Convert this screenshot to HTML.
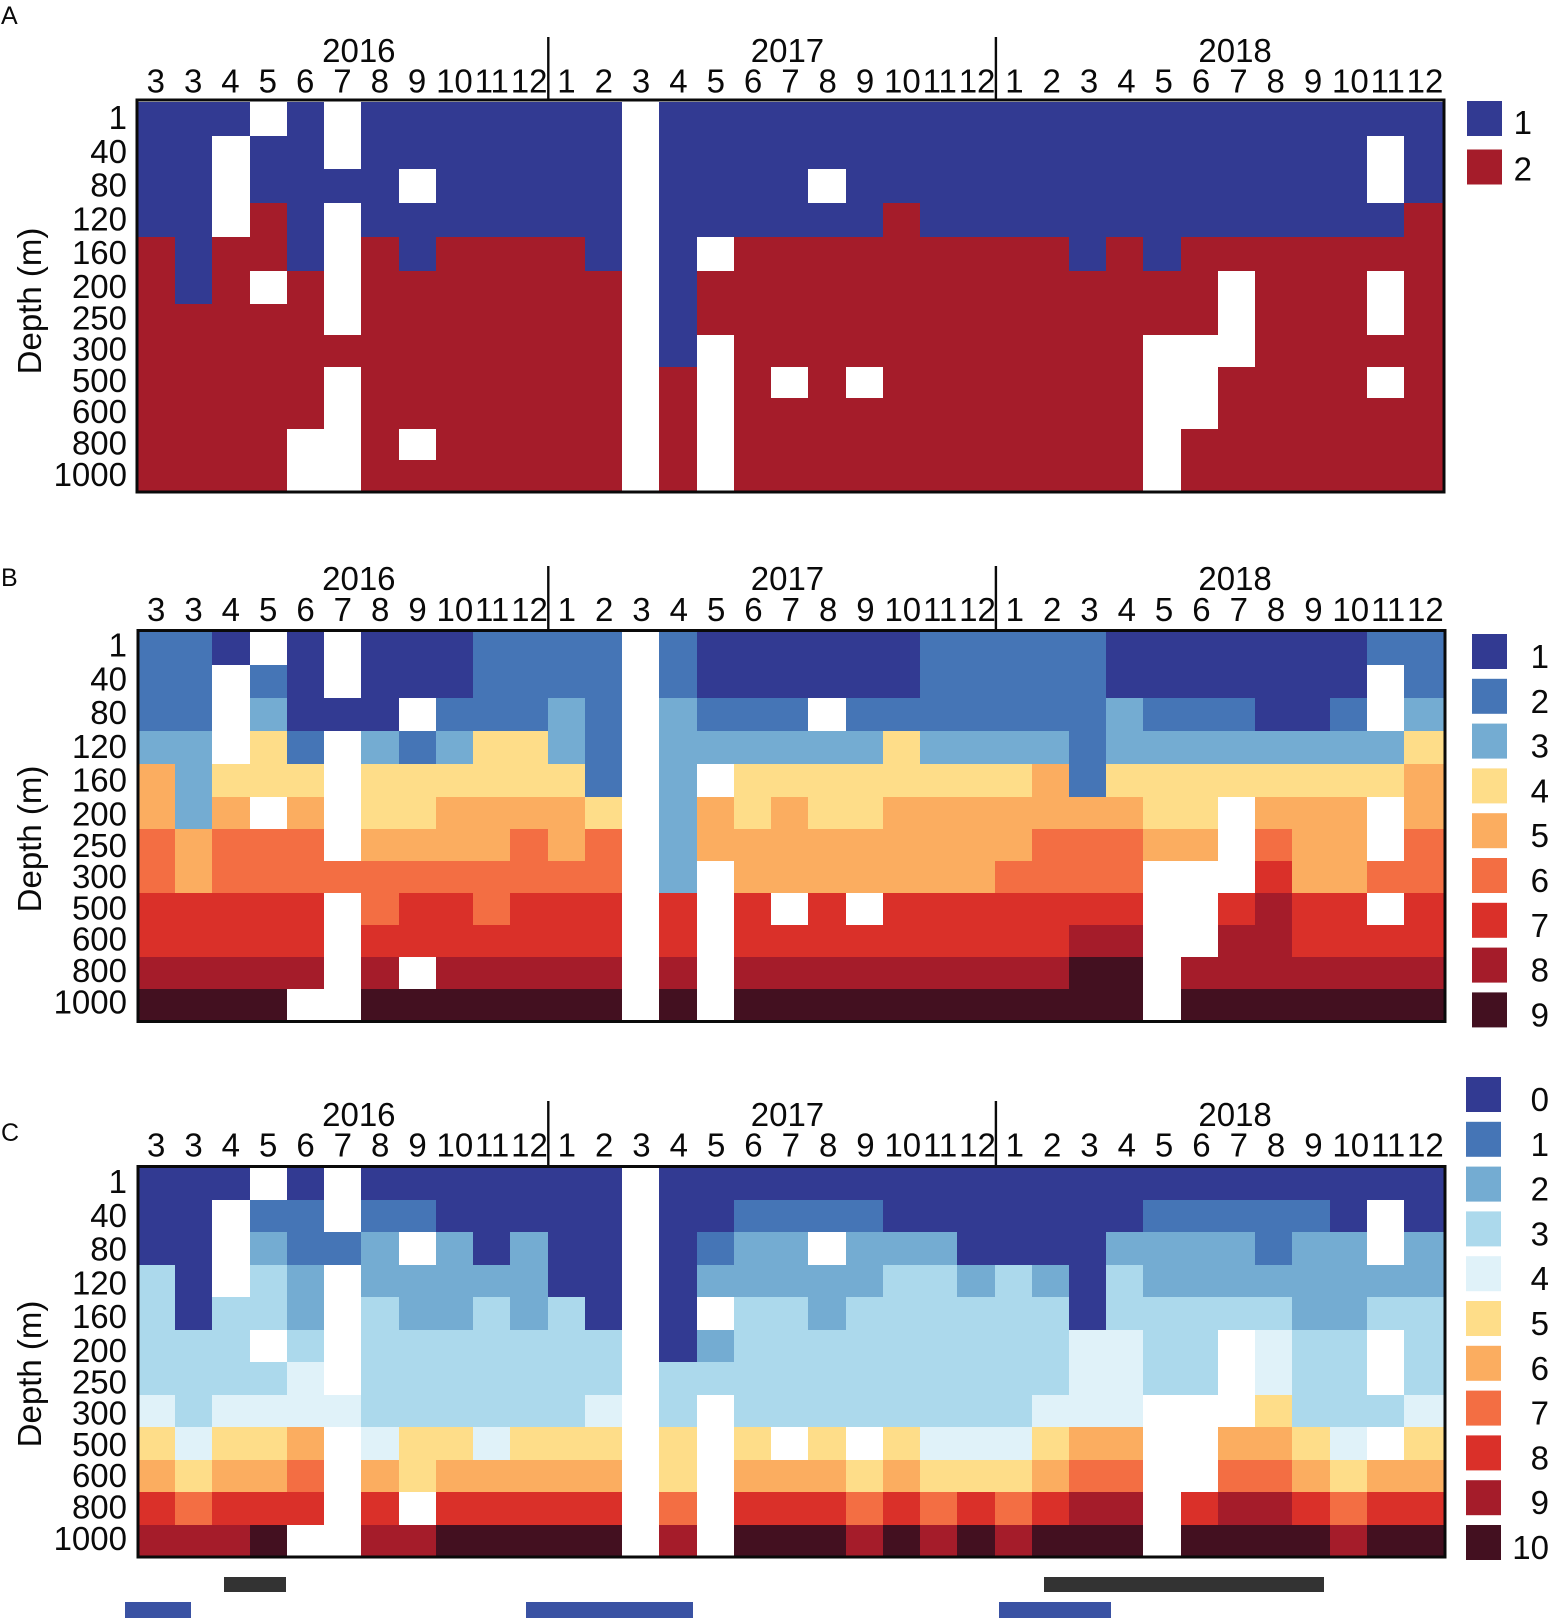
<!DOCTYPE html>
<html lang="en">
<head>
<meta charset="utf-8">
<title>Depth by month heatmaps</title>
<style>
html,body{margin:0;padding:0;background:#fff;}
svg{display:block;}
text{font-family:"Liberation Sans",sans-serif;font-size:33px;fill:#0a0a0a;}
</style>
</head>
<body>
<svg id="chart" xmlns="http://www.w3.org/2000/svg" width="1548" height="1618" viewBox="0 0 1548 1618"></svg>
<script>
const _ = null;
const monthLabels = [3,3,4,5,6,7,8,9,10,11,12,1,2,3,4,5,6,7,8,9,10,11,12,1,2,3,4,5,6,7,8,9,10,11,12];
const depthLabels = [1,40,80,120,160,200,250,300,500,600,800,1000];
const yearLabels = ['2016','2017','2018'];
const yearCenterColumns = [5.93,17.44,29.46];
const yearBreakColumns = [11,23];

const valuesA = [
[1,1,1,_,1,_,1,1,1,1,1,1,1,_,1,1,1,1,1,1,1,1,1,1,1,1,1,1,1,1,1,1,1,1,1],
[1,1,_,1,1,_,1,1,1,1,1,1,1,_,1,1,1,1,1,1,1,1,1,1,1,1,1,1,1,1,1,1,1,_,1],
[1,1,_,1,1,1,1,_,1,1,1,1,1,_,1,1,1,1,_,1,1,1,1,1,1,1,1,1,1,1,1,1,1,_,1],
[1,1,_,2,1,_,1,1,1,1,1,1,1,_,1,1,1,1,1,1,2,1,1,1,1,1,1,1,1,1,1,1,1,1,2],
[2,1,2,2,1,_,2,1,2,2,2,2,1,_,1,_,2,2,2,2,2,2,2,2,2,1,2,1,2,2,2,2,2,2,2],
[2,1,2,_,2,_,2,2,2,2,2,2,2,_,1,2,2,2,2,2,2,2,2,2,2,2,2,2,2,_,2,2,2,_,2],
[2,2,2,2,2,_,2,2,2,2,2,2,2,_,1,2,2,2,2,2,2,2,2,2,2,2,2,2,2,_,2,2,2,_,2],
[2,2,2,2,2,2,2,2,2,2,2,2,2,_,1,_,2,2,2,2,2,2,2,2,2,2,2,_,_,_,2,2,2,2,2],
[2,2,2,2,2,_,2,2,2,2,2,2,2,_,2,_,2,_,2,_,2,2,2,2,2,2,2,_,_,2,2,2,2,_,2],
[2,2,2,2,2,_,2,2,2,2,2,2,2,_,2,_,2,2,2,2,2,2,2,2,2,2,2,_,_,2,2,2,2,2,2],
[2,2,2,2,_,_,2,_,2,2,2,2,2,_,2,_,2,2,2,2,2,2,2,2,2,2,2,_,2,2,2,2,2,2,2],
[2,2,2,2,_,_,2,2,2,2,2,2,2,_,2,_,2,2,2,2,2,2,2,2,2,2,2,_,2,2,2,2,2,2,2]
];

const valuesB = [
[2,2,1,_,1,_,1,1,1,2,2,2,2,_,2,1,1,1,1,1,1,2,2,2,2,2,1,1,1,1,1,1,1,2,2],
[2,2,_,2,1,_,1,1,1,2,2,2,2,_,2,1,1,1,1,1,1,2,2,2,2,2,1,1,1,1,1,1,1,_,2],
[2,2,_,3,1,1,1,_,2,2,2,3,2,_,3,2,2,2,_,2,2,2,2,2,2,2,3,2,2,2,1,1,2,_,3],
[3,3,_,4,2,_,3,2,3,4,4,3,2,_,3,3,3,3,3,3,4,3,3,3,3,2,3,3,3,3,3,3,3,3,4],
[5,3,4,4,4,_,4,4,4,4,4,4,2,_,3,_,4,4,4,4,4,4,4,4,5,2,4,4,4,4,4,4,4,4,5],
[5,3,5,_,5,_,4,4,5,5,5,5,4,_,3,5,4,5,4,4,5,5,5,5,5,5,5,4,4,_,5,5,5,_,5],
[6,5,6,6,6,_,5,5,5,5,6,5,6,_,3,5,5,5,5,5,5,5,5,5,6,6,6,5,5,_,6,5,5,_,6],
[6,5,6,6,6,6,6,6,6,6,6,6,6,_,3,_,5,5,5,5,5,5,5,6,6,6,6,_,_,_,7,5,5,6,6],
[7,7,7,7,7,_,6,7,7,6,7,7,7,_,7,_,7,_,7,_,7,7,7,7,7,7,7,_,_,7,8,7,7,_,7],
[7,7,7,7,7,_,7,7,7,7,7,7,7,_,7,_,7,7,7,7,7,7,7,7,7,8,8,_,_,8,8,7,7,7,7],
[8,8,8,8,8,_,8,_,8,8,8,8,8,_,8,_,8,8,8,8,8,8,8,8,8,9,9,_,8,8,8,8,8,8,8],
[9,9,9,9,_,_,9,9,9,9,9,9,9,_,9,_,9,9,9,9,9,9,9,9,9,9,9,_,9,9,9,9,9,9,9]
];

const valuesC = [
[0,0,0,_,0,_,0,0,0,0,0,0,0,_,0,0,0,0,0,0,0,0,0,0,0,0,0,0,0,0,0,0,0,0,0],
[0,0,_,1,1,_,1,1,0,0,0,0,0,_,0,0,1,1,1,1,0,0,0,0,0,0,0,1,1,1,1,1,0,_,0],
[0,0,_,2,1,1,2,_,2,0,2,0,0,_,0,1,2,2,_,2,2,2,0,0,0,0,2,2,2,2,1,2,2,_,2],
[3,0,_,3,2,_,2,2,2,2,2,0,0,_,0,2,2,2,2,2,3,3,2,3,2,0,3,2,2,2,2,2,2,2,2],
[3,0,3,3,2,_,3,2,2,3,2,3,0,_,0,_,3,3,2,3,3,3,3,3,3,0,3,3,3,3,3,2,2,3,3],
[3,3,3,_,3,_,3,3,3,3,3,3,3,_,0,2,3,3,3,3,3,3,3,3,3,4,4,3,3,_,4,3,3,_,3],
[3,3,3,3,4,_,3,3,3,3,3,3,3,_,3,3,3,3,3,3,3,3,3,3,3,4,4,3,3,_,4,3,3,_,3],
[4,3,4,4,4,4,3,3,3,3,3,3,4,_,3,_,3,3,3,3,3,3,3,3,4,4,4,_,_,_,5,3,3,3,4],
[5,4,5,5,6,_,4,5,5,4,5,5,5,_,5,_,5,_,5,_,5,4,4,4,5,6,6,_,_,6,6,5,4,_,5],
[6,5,6,6,7,_,6,5,6,6,6,6,6,_,5,_,6,6,6,5,6,5,5,5,6,7,7,_,_,7,7,6,5,6,6],
[8,7,8,8,8,_,8,_,8,8,8,8,8,_,7,_,8,8,8,7,8,7,8,7,8,9,9,_,8,9,9,8,7,8,8],
[9,9,9,10,_,_,9,9,10,10,10,10,10,_,9,_,10,10,10,9,10,9,10,9,10,10,10,_,10,10,10,10,9,10,10]
];

const legendValuesA = [1,2];
const legendValuesB = [1,2,3,4,5,6,7,8,9];
const legendValuesC = [0,1,2,3,4,5,6,7,8,9,10];

const navy = '#323a92';
const colorsA = {1:navy, 2:'#a51c2a'};
const colorsB = {1:navy, 2:'#4575b6', 3:'#74acd2', 4:'#fedd89', 5:'#fbad60', 6:'#f36e43', 7:'#da3029', 8:'#a51c2a', 9:'#431020'};
const colorsC = {0:navy, 1:'#4575b6', 2:'#74acd2', 3:'#acd9ec', 4:'#e0f2f9', 5:'#fedd89', 6:'#fbad60', 7:'#f36e43', 8:'#da3029', 9:'#a51c2a', 10:'#431020'};

const greySpanStarts = [2.32,24.33];
const greySpanEnds = [3.97,31.85];
const blueSpanStarts = [-0.35,10.42,23.12];
const blueSpanEnds = [1.42,14.9,26.13];

const NS = 'http://www.w3.org/2000/svg';
const root = document.getElementById('chart');

function mk(tag, attrs, parent, txt) {
  const el = document.createElementNS(NS, tag);
  for (const k in attrs) el.setAttribute(k, attrs[k]);
  if (txt !== undefined) el.textContent = txt;
  parent.appendChild(el);
  return el;
}

function drawPanel(p) {
  const g = mk('g', {}, root);
  
  

  const xScale = c => Math.round(p.x0 + c * p.colW);
  const nCols = monthLabels.length;
  const cellEdge = c => (c >= nCols ? Math.round(p.fx1) : xScale(c));
  const yScale = r => Math.round(r <= p.nUpper ? p.y0 + r * p.h1 : p.y0 + p.nUpper * p.h1 + (r - p.nUpper) * p.h2);
  const depthBaseline = r => p.labelY + (r <= 5 ? r * 33.75 : 168.75 + 31.5 + (r - 6) * 31.3);

  const letter = mk('text', {x: 1, y: p.letterY, style: 'font-size:25px'}, g, p.letter);
  
  

  p.values.forEach((row, r) => {
    row.forEach((v, c) => {
      if (v === null) return;
      const cell = mk('rect', {
        x: cellEdge(c), y: yScale(r),
        width: cellEdge(c + 1) - cellEdge(c),
        height: yScale(r + 1) - yScale(r),
        fill: p.colors[v]
      }, g);
      
      
    });
  });

  const frame = mk('rect', {x: p.fx0, y: p.fy0, width: p.fx1 - p.fx0, height: p.fy1 - p.fy0, fill: 'none', stroke: '#0a0a0a', 'stroke-width': 3}, g);
  
  

  yearBreakColumns.forEach(c => {
    const bx = p.x0 + c * 37.3;
    const line = mk('line', {x1: bx, x2: bx, y1: p.sepTop, y2: p.fy0, stroke: '#0a0a0a', 'stroke-width': 2.4}, g);
    
    
  });

  yearLabels.forEach((t, i) => {
    const el = mk('text', {x: p.x0 + yearCenterColumns[i] * p.colW, y: p.yearY, 'text-anchor': 'middle'}, g, t);
    
    
  });

  monthLabels.forEach((t, c) => {
    const el = mk('text', {x: p.monthX + c * 37.33, y: p.monthY, 'text-anchor': 'middle'}, g, t);
    
    
  });

  depthLabels.forEach((t, r) => {
    const el = mk('text', {x: 127, y: depthBaseline(r), 'text-anchor': 'end'}, g, t);
    
    
  });

  const title = mk('text', {x: 0, y: 0, 'text-anchor': 'middle', transform: 'translate(41 ' + p.titleY + ') rotate(-90)'}, g, 'Depth (m)');
  
  

  p.legendValues.forEach((v, i) => {
    const top = p.legY + i * p.legStep;
    const sw = mk('rect', {x: p.legX, y: top, width: 35, height: 35, fill: p.colors[v]}, g);
    
    
    const lb = mk('text', {x: p.legTextX, y: p.legTextY + i * p.legTextStep, 'text-anchor': 'end'}, g, v);
    
    
  });

  return xScale;
}

drawPanel({letter:'A', values:valuesA, colors:colorsA, legendValues:legendValuesA,
  x0:138, colW:37.24, y0:102, h1:33.7, h2:31.2, nUpper:6, labelY:129, monthX:155.8,
  fx0:137, fy0:100, fx1:1444, fy1:492, sepTop:37, yearY:62, monthY:92.5, letterY:24, titleY:301,
  legX:1467, legY:101, legStep:48.5, legTextX:1532, legTextY:134, legTextStep:46.4});

drawPanel({letter:'B', values:valuesB, colors:colorsB, legendValues:legendValuesB,
  x0:138, colW:37.24, y0:632, h1:33, h2:32, nUpper:5, labelY:656.5, monthX:156.2,
  fx0:138, fy0:630.5, fx1:1445, fy1:1021.5, sepTop:566, yearY:590, monthY:621, letterY:586, titleY:839,
  legX:1472, legY:634, legStep:44.8, legTextX:1549, legTextY:668, legTextStep:44.8});

const xC = drawPanel({letter:'C', values:valuesC, colors:colorsC, legendValues:legendValuesC,
  x0:138, colW:37.24, y0:1167, h1:32.5, h2:32.5, nUpper:12, labelY:1193, monthX:156.2,
  fx0:138, fy0:1166.5, fx1:1445, fy1:1557, sepTop:1101, yearY:1126, monthY:1156.5, letterY:1141, titleY:1374,
  legX:1466, legY:1077, legStep:44.8, legTextX:1549, legTextY:1111, legTextStep:44.8});

greySpanStarts.forEach((s, i) => {
  const bar = mk('rect', {x: xC(s), y: 1577, width: xC(greySpanEnds[i]) - xC(s), height: 15, fill: '#333333'}, root);
  
  
});

blueSpanStarts.forEach((s, i) => {
  const bar = mk('rect', {x: xC(s), y: 1602, width: xC(blueSpanEnds[i]) - xC(s), height: 16, fill: '#3a52a3'}, root);
  
  
});
</script>
</body>
</html>
